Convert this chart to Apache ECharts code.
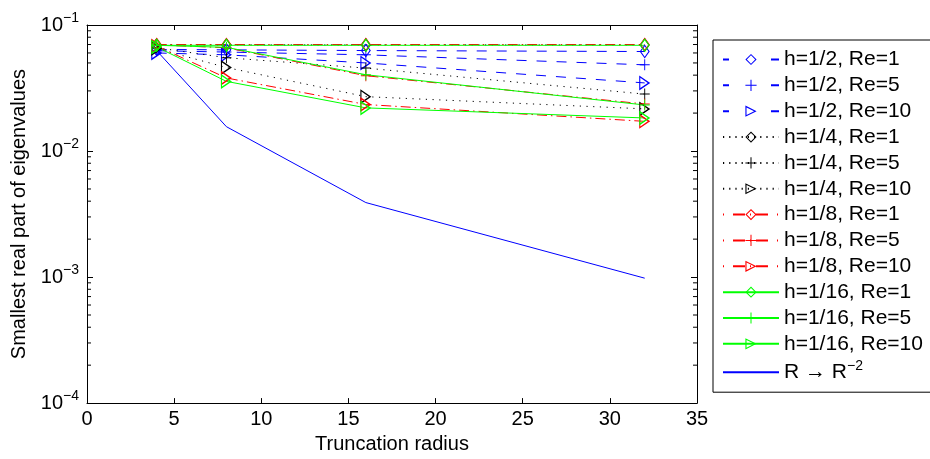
<!DOCTYPE html>
<html>
<head>
<meta charset="utf-8">
<script src="https://cdn.jsdelivr.net/npm/echarts@6/dist/echarts.min.js"></script>
<style>
html,body{margin:0;padding:0;background:#fff;}
#chart{width:930px;height:459px;}
</style>
</head>
<body>
<div id="chart"></div>
<script>
// ---- data ----
var radius = [4, 8, 16, 32];
var h2Re1  = [0.0640, 0.0635, 0.0627, 0.0616];
var h2Re5  = [0.0625, 0.0610, 0.0580, 0.0483];
var h2Re10 = [0.0600, 0.0580, 0.0500, 0.0347];
var h4Re1  = [0.0695, 0.0695, 0.0695, 0.0695];
var h4Re5  = [0.0660, 0.0550, 0.0455, 0.0283];
var h4Re10 = [0.0650, 0.0460, 0.0270, 0.0216];
var h8Re1  = [0.0700, 0.0700, 0.0700, 0.0700];
var h8Re5  = [0.0695, 0.0660, 0.0396, 0.0236];
var h8Re10 = [0.0680, 0.0380, 0.0234, 0.0172];
var h16Re1 = [0.0690, 0.0690, 0.0690, 0.0690];
var h16Re5 = [0.0690, 0.0665, 0.0403, 0.0232];
var h16Re10= [0.0670, 0.0357, 0.0220, 0.0183];
var rLaw   = [0.0625, 0.0156, 0.0039, 0.00098];
var seriesNames = ['h=1/2, Re=1','h=1/2, Re=5','h=1/2, Re=10','h=1/4, Re=1','h=1/4, Re=5','h=1/4, Re=10',
  'h=1/8, Re=1','h=1/8, Re=5','h=1/8, Re=10','h=1/16, Re=1','h=1/16, Re=5','h=1/16, Re=10','R → R^-2'];
var xTicks = [0, 5, 10, 15, 20, 25, 30, 35];
var yMajorTicks = [0.0001, 0.001, 0.01, 0.1];
var yMinorTicks = [0.0002,0.0003,0.0004,0.0005,0.0006,0.0007,0.0008,0.0009,
                   0.002,0.003,0.004,0.005,0.006,0.007,0.008,0.009,
                   0.02,0.03,0.04,0.05,0.06,0.07,0.08,0.09];

// ---- styling ----
var FONT = 'Liberation Sans, Arial, Helvetica, sans-serif';
var BLUE = '#0000ff', BLACK = '#000000', RED = '#ff0000', GREEN = '#00ff00';
var DASH = [10, 10], DOT = [1.2, 5.5], DASHDOT = [10, 4, 1.5, 4], SOLID = 'solid';
var LEG_DASH = [6, 42, 8, 10], LEG_DOT = [1.2, 5], LEG_DASHDOT = [1, 9, 12, 5, 1, 5, 12, 9, 1, 9], LEG_SOLID = 'solid';
var SYM_DIAMOND = 'path://M5,0L10,5L5,10L0,5Z M5,1.3L1.3,5L5,8.7L8.7,5Z';
var SYM_TRI = 'path://M0,0L10,5L0,10Z M1,1.618L1,8.382L7.764,5Z';
var SYM_PLUS = 'path://M0,4.55H10V5.45H0Z M4.55,0H5.45V10H4.55Z';
var symSize = {};
symSize[SYM_DIAMOND] = [10, 14];
symSize[SYM_TRI] = [11, 15];
symSize[SYM_PLUS] = [10, 11];

function mk(name, vals, color, type, sym) {
  return {
    name: name, type: 'line', data: radius.map(function (r, i) { return [r, vals[i]]; }),
    symbol: sym, symbolSize: symSize[sym], showSymbol: true,
    lineStyle: { color: color, width: 1, type: type },
    itemStyle: { color: color },
    emphasis: { disabled: true }, z: 3
  };
}

var series = [
  mk(seriesNames[0], h2Re1, BLUE, DASH, SYM_DIAMOND),
  mk(seriesNames[1], h2Re5, BLUE, DASH, SYM_PLUS),
  mk(seriesNames[2], h2Re10, BLUE, DASH, SYM_TRI),
  mk(seriesNames[3], h4Re1, BLACK, DOT, SYM_DIAMOND),
  mk(seriesNames[4], h4Re5, BLACK, DOT, SYM_PLUS),
  mk(seriesNames[5], h4Re10, BLACK, DOT, SYM_TRI),
  mk(seriesNames[6], h8Re1, RED, DASHDOT, SYM_DIAMOND),
  mk(seriesNames[7], h8Re5, RED, DASHDOT, SYM_PLUS),
  mk(seriesNames[8], h8Re10, RED, DASHDOT, SYM_TRI),
  mk(seriesNames[9], h16Re1, GREEN, SOLID, SYM_DIAMOND),
  mk(seriesNames[10], h16Re5, GREEN, SOLID, SYM_PLUS),
  mk(seriesNames[11], h16Re10, GREEN, SOLID, SYM_TRI),
  {
    name: seriesNames[12], type: 'line', data: radius.map(function (r, i) { return [r, rLaw[i]]; }),
    symbol: 'line', showSymbol: false,
    lineStyle: { color: BLUE, width: 1, type: 'solid' },
    itemStyle: { color: BLUE }, emphasis: { disabled: true }, z: 3
  },
  {
    // minor log ticks on left and right frame
    type: 'custom', silent: true, z: 5, clip: false,
    data: yMinorTicks.map(function (v) { return [xTicks[0], v]; }),
    renderItem: function (params, api) {
      var v = api.value(1);
      var pl = api.coord([xTicks[0], v]);
      var pr = api.coord([xTicks[xTicks.length - 1], v]);
      return {
        type: 'group', children: [
          { type: 'line', shape: { x1: pl[0], y1: pl[1], x2: pl[0] + 4, y2: pl[1] }, style: { stroke: '#000', lineWidth: 1 } },
          { type: 'line', shape: { x1: pr[0], y1: pr[1], x2: pr[0] - 4, y2: pr[1] }, style: { stroke: '#000', lineWidth: 1 } }
        ]
      };
    }
  }
];

var legendLine = [LEG_DASH, LEG_DASH, LEG_DASH, LEG_DOT, LEG_DOT, LEG_DOT,
  LEG_DASHDOT, LEG_DASHDOT, LEG_DASHDOT, LEG_SOLID, LEG_SOLID, LEG_SOLID, LEG_SOLID];

var frameLine = { show: true, onZero: false, lineStyle: { color: '#000', width: 1 } };
var option = {
  animation: false,
  backgroundColor: '#fff',
  textStyle: { fontFamily: FONT },
  grid: { left: 87, right: 233, top: 25, bottom: 54, containLabel: false },
  xAxis: [
    {
      type: 'value', min: xTicks[0], max: xTicks[xTicks.length - 1], interval: xTicks[1] - xTicks[0],
      axisLine: frameLine, splitLine: { show: false },
      axisTick: { inside: true, length: 5, lineStyle: { color: '#000' } },
      axisLabel: { color: '#000', fontSize: 20, fontFamily: FONT, margin: 6 },
      name: 'Truncation radius', nameLocation: 'middle', nameGap: 27,
      nameTextStyle: { color: '#000', fontSize: 20, fontFamily: FONT }
    },
    {
      type: 'value', position: 'top', min: xTicks[0], max: xTicks[xTicks.length - 1], interval: xTicks[1] - xTicks[0],
      axisLine: frameLine, splitLine: { show: false },
      axisTick: { inside: true, length: 5, lineStyle: { color: '#000' } },
      axisLabel: { show: false }
    }
  ],
  yAxis: [
    {
      type: 'log', logBase: 10, min: yMajorTicks[0], max: yMajorTicks[yMajorTicks.length - 1],
      axisLine: frameLine, splitLine: { show: false },
      axisTick: { inside: true, length: 6, lineStyle: { color: '#000' } },
      axisLabel: {
        color: '#000', fontSize: 20, fontFamily: FONT, margin: 8,
        formatter: function (v) { return '10{s|−' + Math.round(-Math.log10(v)) + '}'; },
        rich: { s: { fontSize: 14, fontFamily: FONT, color: '#000', padding: [0, 0, 14, 0] } }
      },
      name: 'Smallest real part of eigenvalues', nameLocation: 'middle', nameGap: 58,
      nameTextStyle: { color: '#000', fontSize: 20, fontFamily: FONT }
    },
    {
      type: 'log', logBase: 10, position: 'right', min: yMajorTicks[0], max: yMajorTicks[yMajorTicks.length - 1],
      axisLine: frameLine, splitLine: { show: false },
      axisTick: { inside: true, length: 6, lineStyle: { color: '#000' } },
      axisLabel: { show: false }
    }
  ],
  legend: {
    orient: 'vertical', left: 713, top: 40,
    data: seriesNames.map(function (n, i) {
      return { name: n, lineStyle: { type: legendLine[i] } };
    }),
    itemWidth: 56, itemHeight: 14, itemGap: 4.85,
    padding: [9, 11, 7, 9],
    borderColor: '#000', borderWidth: 1, borderRadius: 0,
    backgroundColor: '#fff',
    selectedMode: false,
    textStyle: {
      color: '#000', fontSize: 21, fontFamily: FONT, lineHeight: 16, height: 16,
      rich: { s: { fontSize: 14, fontFamily: FONT, color: '#000', lineHeight: 16, padding: [0, 0, 12, 0] } }
    },
    formatter: function (name) {
      if (name === seriesNames[12]) return 'R → R{s|−2}';
      return name;
    }
  },
  series: series
};

var chart = echarts.init(document.getElementById('chart'), null, { renderer: 'canvas' });
chart.setOption(option);
</script>
</body>
</html>
